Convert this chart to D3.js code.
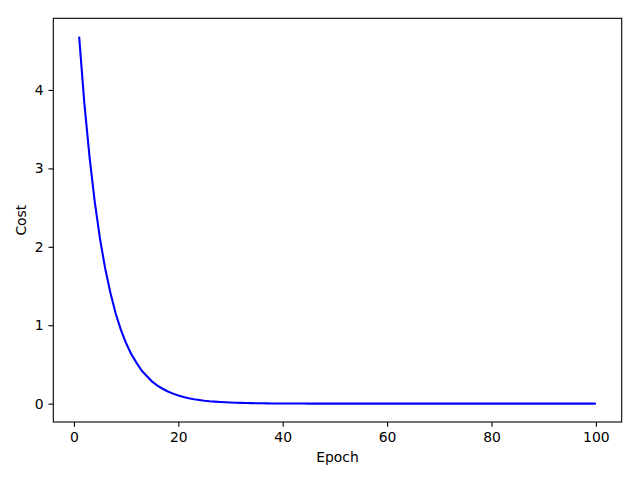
<!DOCTYPE html>
<html>
<head>
<meta charset="utf-8">
<script src="https://cdn.jsdelivr.net/npm/d3@7"></script>
<style>
  html, body { margin: 0; padding: 0; background: #fff; }
  svg { display: block; }
  text { font-family: "DejaVu Sans", sans-serif; font-size: 13.9px; fill: #000; }
</style>
</head>
<body>
<svg id="chart" width="640" height="480"></svg>
<script>
// Data
const epochs = d3.range(1, 101);
const cost = [
  4.68, 3.83, 3.14, 2.57, 2.10, 1.72, 1.41, 1.15, 0.94, 0.77,
  0.63, 0.52, 0.42, 0.35, 0.28, 0.23, 0.19, 0.155, 0.128, 0.104,
  0.085, 0.070, 0.057, 0.047, 0.038, 0.031, 0.026, 0.021, 0.017, 0.014,
  0.012, 0.0095, 0.0078, 0.0064, 0.0052, 0.0043, 0.0035, 0.0029, 0.0023, 0.0019,
  0.0016, 0.0013, 0.0010, 0.0009, 0.0007, 0.0006, 0.0005, 0.0004, 0.0003, 0.0003,
  0.0002, 0.0002, 0.0001, 0.0001, 0.0001, 0.0001, 0.0001, 0, 0, 0,
  0, 0, 0, 0, 0, 0, 0, 0, 0, 0,
  0, 0, 0, 0, 0, 0, 0, 0, 0, 0,
  0, 0, 0, 0, 0, 0, 0, 0, 0, 0,
  0, 0, 0, 0, 0, 0, 0, 0, 0, 0
];
const xTicks = [0, 20, 40, 60, 80, 100];
const yTicks = [0, 1, 2, 3, 4];
const xLabel = "Epoch";
const yLabel = "Cost";

const L = 53.3, R = 621.7, T = 18.3, B = 422;
const svg = d3.select("#chart");

const xMin = d3.min(epochs), xMax = d3.max(epochs);
const xPad = (xMax - xMin) * 0.05;
const yMin = d3.min(cost), yMax = d3.max(cost);
const yPad = (yMax - yMin) * 0.05;

const x = d3.scaleLinear().domain([xMin - xPad, xMax + xPad]).range([L, R]);
const y = d3.scaleLinear().domain([yMin - yPad, yMax + yPad]).range([B, T]);

const data = epochs.map((e, i) => [e, cost[i]]);

svg.append("path")
  .datum(data)
  .attr("fill", "none")
  .attr("stroke", "#0000ff")
  .attr("stroke-width", 2.08)
  .attr("stroke-linejoin", "round")
  .attr("stroke-linecap", "butt")
  .attr("d", d3.line().x(d => x(d[0])).y(d => y(d[1])));

// axes
const xAxis = svg.append("g").attr("transform", `translate(0,${B})`)
  .call(d3.axisBottom(x).tickValues(xTicks).tickSize(4.86).tickPadding(4.86).tickFormat(d3.format("d")));
const yAxis = svg.append("g").attr("transform", `translate(${L},0)`)
  .call(d3.axisLeft(y).tickValues(yTicks).tickSize(4.86).tickPadding(4.86).tickFormat(d3.format("d")));

[xAxis, yAxis].forEach(g => {
  g.select(".domain").remove();
  g.selectAll(".tick line").attr("stroke", "#000").attr("stroke-width", 1.1);
  g.selectAll(".tick text").attr("font-family", "DejaVu Sans, sans-serif").attr("font-size", 13.9).attr("fill", "#000");
});

// frame
svg.append("rect")
  .attr("x", L).attr("y", T).attr("width", R - L).attr("height", B - T)
  .attr("fill", "none").attr("stroke", "#000").attr("stroke-width", 1.1);

svg.append("text")
  .attr("x", (L + R) / 2).attr("y", 462)
  .attr("text-anchor", "middle")
  .text(xLabel);

svg.append("text")
  .attr("transform", `translate(26,${(T + B) / 2}) rotate(-90)`)
  .attr("text-anchor", "middle")
  .text(yLabel);
</script>
</body>
</html>
